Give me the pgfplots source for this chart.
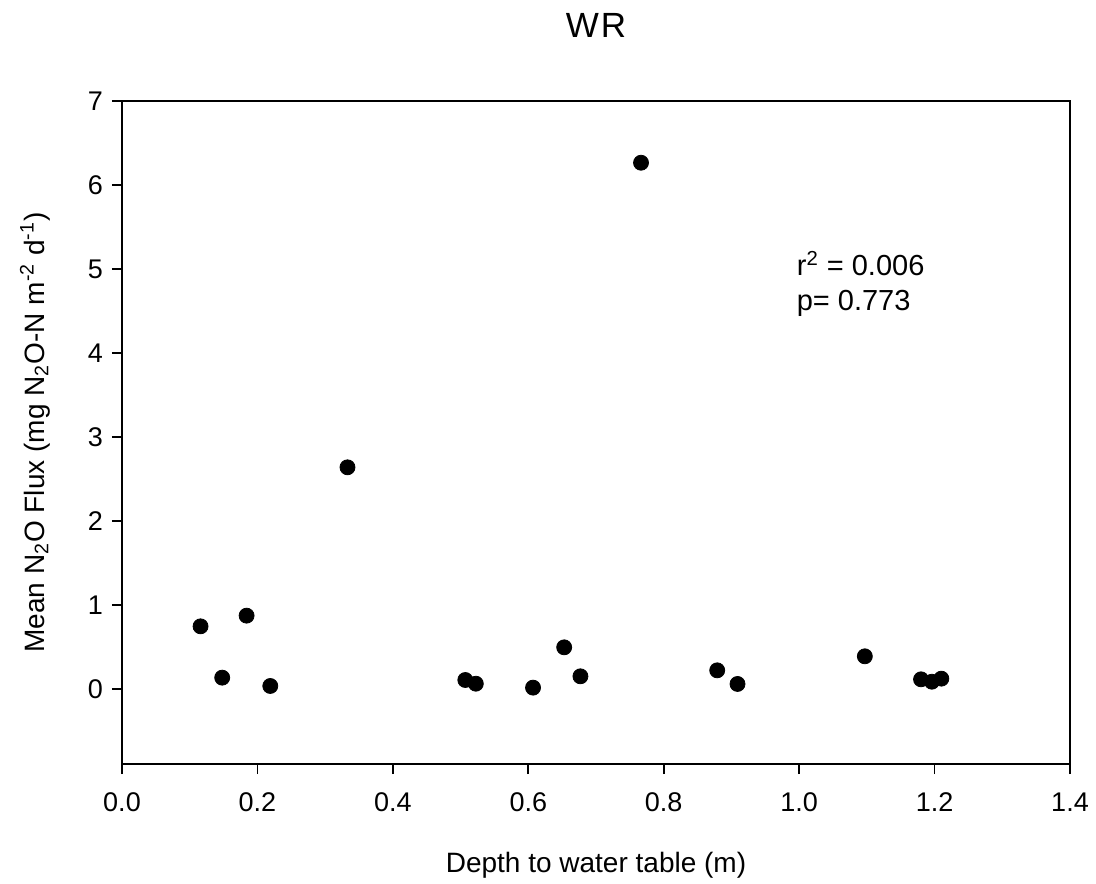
\documentclass[border=0pt]{standalone}
\usepackage{fontspec}
\setmainfont{Liberation Sans}
\usepackage{pgfplots}
\pgfplotsset{compat=1.18}

\begin{document}
\begin{tikzpicture}
\useasboundingbox (-61pt,-59.5pt) rectangle (487pt,382pt);
\begin{axis}[
    at={(0,0)}, anchor=south west,
    scale only axis,
    width=474pt, height=331.5pt,
    xmin=0, xmax=1.4,
    ymin=-0.893, ymax=7,
    xtick={0,0.2,0.4,0.6,0.8,1.0,1.2,1.4},
    ytick={0,1,2,3,4,5,6,7},
    tick align=outside,
    major tick length=5pt,
    xtick pos=bottom, ytick pos=left,
    axis line style={line width=0.8pt},
    every tick/.style={black, line width=0.8pt},
    /pgf/number format/assume math mode=true,
    xticklabel style={/pgf/number format/fixed, /pgf/number format/fixed zerofill,
                      /pgf/number format/precision=1, anchor=north, yshift=-6pt},
    yticklabel style={anchor=east, xshift=-1pt},
    ticklabel style={font=\fontsize{13.5}{15}\selectfont},
    label style={font=\fontsize{14}{16}\selectfont},
    xlabel={Depth to water table (m)},
    xlabel style={at={(axis description cs:0.5,0)}, anchor=base, yshift=-54pt},
    ylabel={Mean N\textsubscript{2}O Flux (mg N\textsubscript{2}O-N m\textsuperscript{-2} d\textsuperscript{-1})},
    ylabel style={at={(axis description cs:0,0.5)}, anchor=center, yshift=43.5pt},
]
\addplot[only marks, mark=*, mark size=3.75pt, black] coordinates {
    (0.116,0.746) (0.148,0.135) (0.184,0.873) (0.219,0.036)
    (0.333,2.639) (0.507,0.107) (0.5225,0.063) (0.607,0.016)
    (0.653,0.496) (0.677,0.151) (0.7665,6.265) (0.879,0.222)
    (0.909,0.060) (1.097,0.389) (1.180,0.115) (1.196,0.087)
    (1.210,0.123)
};
\node[anchor=base west, font=\fontsize{14.5}{16}\selectfont, inner sep=0pt]
    at (axis cs:0.996,4.92) {r\textsuperscript{2} = 0.006};
\node[anchor=base west, font=\fontsize{14.5}{16}\selectfont, inner sep=0pt]
    at (axis cs:0.996,4.51) {p= 0.773};
\end{axis}
\node[anchor=base, font=\fontsize{17.5}{19}\selectfont, inner sep=0pt, yshift=31.5pt]
    at (current axis.north) {W\kern1pt R};
\end{tikzpicture}
\end{document}
